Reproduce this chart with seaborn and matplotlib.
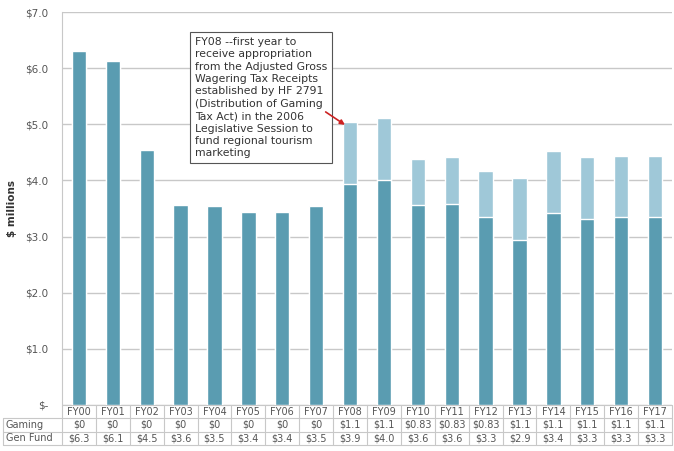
import matplotlib
matplotlib.use("Agg")
import matplotlib.pyplot as plt
import matplotlib.transforms as mtransforms
from matplotlib.ticker import FuncFormatter
from matplotlib.lines import Line2D
import seaborn as sns
import pandas as pd

years = ["FY00", "FY01", "FY02", "FY03", "FY04", "FY05", "FY06", "FY07", "FY08",
         "FY09", "FY10", "FY11", "FY12", "FY13", "FY14", "FY15", "FY16", "FY17"]
gaming = [0, 0, 0, 0, 0, 0, 0, 0, 1.1, 1.1, 0.83, 0.83, 0.83, 1.1, 1.1, 1.1, 1.1, 1.1]
gen_fund = [6.30, 6.13, 4.54, 3.57, 3.54, 3.44, 3.44, 3.54, 3.94, 4.01,
            3.56, 3.58, 3.34, 2.94, 3.42, 3.32, 3.34, 3.34]
row_names = ["Gaming", "Gen Fund"]
note = ("FY08 --first year to\nreceive appropriation\nfrom the Adjusted Gross\n"
        "Wagering Tax Receipts\nestablished by HF 2791\n(Distribution of Gaming\n"
        "Tax Act) in the 2006\nLegislative Session to\nfund regional tourism\nmarketing")

df = pd.DataFrame({"year": years, "gaming": gaming, "gen_fund": gen_fund})
df["total"] = df["gaming"] + df["gen_fund"]

sns.set_style("white")
plt.rcParams["font.family"] = ["DejaVu Sans"]

DARK = "#5a9cb1"
LIGHT = "#9fc8d8"
GRID = "#c8c8c8"
TXT = "#555555"

fig = plt.figure(figsize=(6.74, 4.51), dpi=100)
ax = fig.add_axes([62 / 674, 46 / 451, 610 / 674, 393 / 451])

sns.barplot(data=df, x="year", y="total", color=LIGHT, saturation=1,
            width=0.42, errorbar=None, ax=ax, zorder=3)
sns.barplot(data=df, x="year", y="gen_fund", color=DARK, saturation=1,
            width=0.42, errorbar=None, ax=ax, zorder=3)

ax.set_xlim(-0.5, len(years) - 0.5)
ax.set_ylim(0, 7)
ax.set_yticks(range(0, 8))
ax.yaxis.set_major_formatter(FuncFormatter(lambda v, p: "$-" if v == 0 else f"${v:.1f}"))
ax.grid(axis="y", color=GRID, lw=1, zorder=0)
ax.set_axisbelow(True)
ax.tick_params(axis="y", length=4, color=GRID, labelsize=7.5, labelcolor=TXT, pad=6)
ax.set_xticks([])
ax.set_xlabel("")
ax.set_ylabel("$ millions", fontsize=7.5, fontweight="bold", color="#333333")
ax.yaxis.set_label_coords(-45 / 610, 0.5)
for s in ["top", "right", "bottom"]:
    ax.spines[s].set_visible(False)
ax.spines["left"].set_color(GRID)

# data table below the axes
trans = mtransforms.blended_transform_factory(ax.transData, ax.transAxes)
row_h = 13.3 / 393
fmt_g = lambda v: "$0" if v == 0 else f"${v:g}"
fmt_f = lambda v: f"${v:.1f}"
rows = [[fmt_g(v) for v in gaming], [fmt_f(v) for v in gen_fund]]
x_left = -0.5 - 59 / (610 / 18)
x_right = len(years) - 0.5
for i, y in enumerate(years):
    ax.text(i, -row_h * 0.5, y, transform=trans, ha="center", va="center",
            fontsize=7, color=TXT, clip_on=False)
    for r in range(2):
        ax.text(i, -row_h * (r + 1.5), rows[r][i], transform=trans, ha="center",
                va="center", fontsize=7, color=TXT, clip_on=False)
for r, name in enumerate(row_names):
    ax.text(x_left + 0.08, -row_h * (r + 1.5), name, transform=trans, ha="left",
            va="center", fontsize=7, color=TXT, clip_on=False)
# horizontal lines
for k in range(4):
    xs = (-0.5 if k == 0 else x_left, x_right)
    ax.add_line(Line2D(xs, [-row_h * k] * 2, transform=trans, color=GRID, lw=0.8,
                       clip_on=False))
# vertical lines
for i in range(len(years) + 1):
    ax.add_line(Line2D([i - 0.5] * 2, [0, -row_h * 3], transform=trans, color=GRID,
                       lw=0.8, clip_on=False))
ax.add_line(Line2D([x_left] * 2, [-row_h, -row_h * 3], transform=trans, color=GRID,
                   lw=0.8, clip_on=False))

# annotation box and arrow
ax.text(3.42, 6.56, note, fontsize=7.8, color="#333333", ha="left", va="top",
        linespacing=1.3, zorder=5,
        bbox=dict(boxstyle="square,pad=0.45", fc="white", ec="#555555", lw=0.8))
ax.annotate("", xy=(7.85, 4.99), xytext=(7.28, 5.22),
            arrowprops=dict(arrowstyle="-|>", color="#cc2222", lw=1.2,
                            mutation_scale=7, shrinkA=0, shrinkB=0), zorder=6)

fig.savefig("out.png", dpi=100)
